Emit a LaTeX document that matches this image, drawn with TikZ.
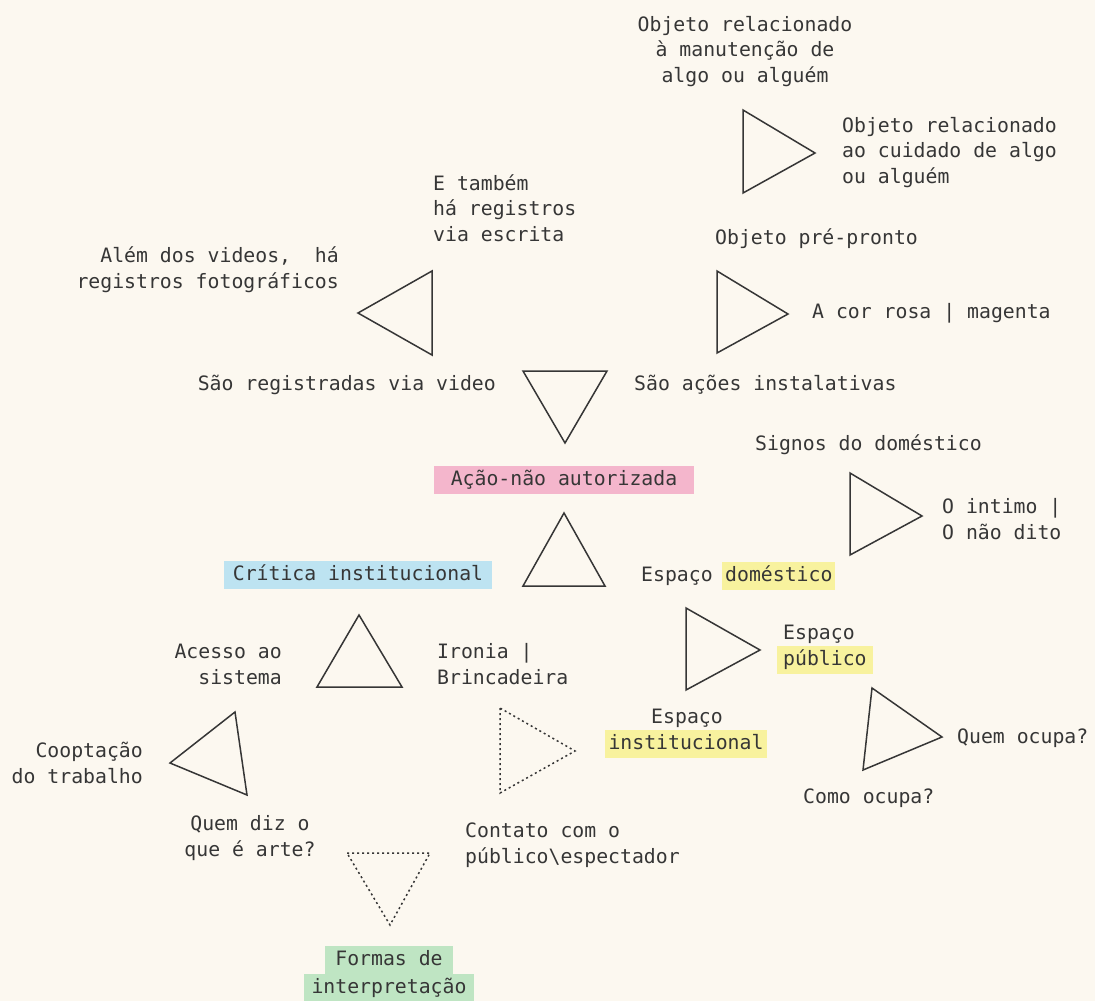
\documentclass[tikz,border=0pt]{standalone}
\usepackage{fontspec}
\setmonofont{DejaVu Sans Mono}

\definecolor{papel}{HTML}{FCF8F0}
\definecolor{tinta}{HTML}{363636}
\definecolor{rosa}{HTML}{F4B6CC}
\definecolor{azul}{HTML}{BDE3F1}
\definecolor{amarelo}{HTML}{F8F29E}
\definecolor{verde}{HTML}{BFE5C3}

\begin{document}
\begin{tikzpicture}[x=1pt,y=-1pt]
    \tikzset{texto/.style={font = \ttfamily\fontsize{19.8}{25.5}\selectfont,
                text = tinta,
                inner sep = 0pt},
        marca/.style={texto,
                text height = 14pt,
                text depth = 4pt,
                inner ysep = 5pt},
        tri/.style={draw = tinta,
                line width = 1.5pt},
        tripont/.style={tri,
                dash pattern = on 2pt off 3pt}}
    \fill[papel] (0,0) rectangle (1095,1001);
    \useasboundingbox (0,0) rectangle (1095,1001);
    % centro (multi-line nodes: base = last line)
    \node[marca, fill = rosa, inner xsep = 17pt, anchor = base] (acao) at (564,485) {Ação-não autorizada};
    \draw[tri] (523,371) -- (607,371) -- (565,443) -- cycle;
    \draw[tri] (564,513) -- (523,586) -- (605,586) -- cycle;
    \node[texto, anchor = base east] (video) at (496,390) {São registradas via video};
    \node[texto, anchor = base west] (instal) at (634,390) {São ações instalativas};
    % registros
    \draw[tri] (432,271) -- (432,355) -- (358,313) -- cycle;
    \node[texto, align = right, anchor = base east] (fotos) at (339,288) {Além dos videos,\ \ há\\registros fotográficos};
    \node[texto, align = left, anchor = base west] (escrita) at (433,241) {E também\\há registros\\via escrita};
    % objetos
    \draw[tri] (717,271) -- (717,353) -- (788,314) -- cycle;
    \node[texto, anchor = base west] (prepronto) at (715,244) {Objeto pré-pronto};
    \node[texto, anchor = base west] (cor) at (812,318) {A cor rosa | magenta};
    \draw[tri] (743,110) -- (743,193) -- (815,153) -- cycle;
    \node[texto, align = center, anchor = base] (manut) at (745,82) {Objeto relacionado\\à manutenção de\\algo ou alguém};
    \node[texto, align = left, anchor = base west] (cuidado) at (842,183) {Objeto relacionado\\ao cuidado de algo\\ou alguém};
    % espacos
    \node[texto, anchor = base west] (espdom) at (641,581) {Espaço};
    \node[marca, fill = amarelo, inner xsep = 3pt, anchor = base west] (dom) at (722,581) {doméstico};
    \node[texto, anchor = base west] (signos) at (755,450) {Signos do doméstico};
    \draw[tri] (850,473) -- (850,555) -- (922,516) -- cycle;
    \node[texto, align = left, anchor = base west] (intimo) at (942,539) {O intimo |\\O não dito};
    \draw[tri] (686,608) -- (686,690) -- (760,650) -- cycle;
    \node[texto, anchor = base west] (esppub) at (783,639) {Espaço};
    \node[marca, fill = amarelo, inner xsep = 6pt, anchor = base west] (pub) at (777,665) {público};
    \draw[tri] (872,688) -- (863,770) -- (942,737) -- cycle;
    \node[texto, anchor = base west] (quem) at (957,743) {Quem ocupa?};
    \node[texto, anchor = base west] (como) at (803,803) {Como ocupa?};
    \node[texto, anchor = base] (espinst) at (687,723) {Espaço};
    \node[marca, fill = amarelo, inner xsep = 4pt, anchor = base] (inst) at (686,749) {institucional};
    % critica
    \node[marca, fill = azul, inner xsep = 9pt, anchor = base] (critica) at (358,580) {Crítica institucional};
    \draw[tri] (359,615) -- (317,687) -- (402,687) -- cycle;
    \node[texto, align = right, anchor = base east] (acesso) at (282,684) {Acesso ao\\sistema};
    \node[texto, align = left, anchor = base west] (ironia) at (437,684) {Ironia |\\Brincadeira};
    \draw[tri] (235,712) -- (247,795) -- (170,763) -- cycle;
    \node[texto, align = right, anchor = base east] (coopt) at (143,783) {Cooptação\\do trabalho};
    \node[texto, align = center, anchor = base] (quemdiz) at (250,856) {Quem diz o\\que é arte?};
    \draw[tripont] (500,708) -- (500,793) -- (575,751) -- cycle;
    \node[texto, align = left, anchor = base west] (contato) at (465,863) {Contato com o\\público\textbackslash espectador};
    \draw[tripont] (347,853) -- (430,853) -- (390,925) -- cycle;
    \node[marca, fill = verde, inner xsep = 10pt, anchor = base] (formas) at (389,965) {Formas de};
    \node[marca, fill = verde, inner xsep = 8pt, anchor = base] (interp) at (389,993) {interpretação};
\end{tikzpicture}
\end{document}
